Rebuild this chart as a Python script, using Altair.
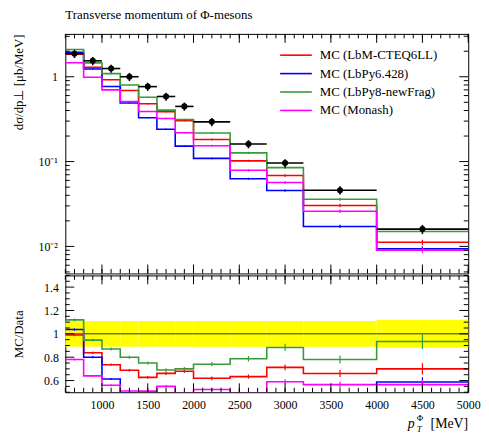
import altair as alt
import pandas as pd

# Bin edges of the pT histogram (MeV)
edges = [600, 800, 1000, 1200, 1400, 1600, 1800, 2000, 2400, 2800, 3200, 4000, 5000]

# Measured cross section per bin (ub/MeV) and its relative uncertainty
data_xsec = [1.87, 1.54, 1.25, 1.0, 0.765, 0.585, 0.447, 0.294, 0.161, 0.096, 0.046, 0.016]
data_relerr = [0.11, 0.11, 0.11, 0.11, 0.11, 0.11, 0.11, 0.11, 0.11, 0.11, 0.11, 0.12]

# Generator predictions
mc_names = ["MC (LbM-CTEQ6LL)", "MC (LbPy6.428)", "MC (LbPy8-newFrag)", "MC (Monash)"]
mc_colors = ["#ff0000", "#0000ff", "#3a9a3a", "#ff00ff"]
mc_lbm = [1.85, 1.29, 0.92, 0.688, 0.48, 0.387, 0.3035, 0.182, 0.102, 0.0684, 0.0304, 0.0112]
mc_lbpy6 = [1.94, 1.232, 0.7675, 0.49, 0.329, 0.24, 0.152, 0.109, 0.0628, 0.0457, 0.0172, 0.0094]
mc_lbpy8 = [2.094, 1.457, 1.0875, 0.80, 0.574, 0.404, 0.313, 0.2176, 0.1267, 0.0848, 0.0359, 0.01496]
mc_monash = [1.459, 0.986, 0.70, 0.51, 0.39, 0.322, 0.219, 0.154, 0.079, 0.0566, 0.026, 0.00904]
mc_relerr = [0.01, 0.012, 0.014, 0.016, 0.018, 0.02, 0.022, 0.025, 0.03, 0.035, 0.045, 0.07]

# Axis tick positions
x_major = [1000, 1500, 2000, 2500, 3000, 3500, 4000, 4500, 5000]
x_minor = list(range(600, 5001, 100))
y_major = [0.01, 0.1, 1.0]
y_minor = [0.005, 0.006, 0.007, 0.008, 0.009,
           0.02, 0.03, 0.04, 0.05, 0.06, 0.07, 0.08, 0.09,
           0.2, 0.3, 0.4, 0.5, 0.6, 0.7, 0.8, 0.9, 2.0, 3.0]
r_major = [0.6, 0.8, 1.0, 1.2, 1.4]
r_minor = [0.5, 0.55, 0.65, 0.7, 0.75, 0.85, 0.9, 0.95, 1.05, 1.1, 1.15, 1.25, 1.3, 1.35, 1.45, 1.5]

FONT = "Liberation Serif"
W, H1, H2 = 407, 242, 118
MAJ, MIN = 9, 4.5

series = {
    mc_names[0]: mc_lbm,
    mc_names[1]: mc_lbpy6,
    mc_names[2]: mc_lbpy8,
    mc_names[3]: mc_monash,
}

centers = [(edges[i] + edges[i + 1]) / 2 for i in range(len(data_xsec))]

step_rows, err_rows, rstep_rows, rerr_rows = [], [], [], []
for name, vals in series.items():
    for i, v in enumerate(vals):
        r = v / data_xsec[i]
        step_rows.append({"series": name, "x": edges[i], "y": v})
        rstep_rows.append({"series": name, "x": edges[i], "y": r})
        err_rows.append({"series": name, "xc": centers[i],
                         "lo": v * (1 - mc_relerr[i]), "hi": v * (1 + mc_relerr[i])})
        rerr_rows.append({"series": name, "xc": centers[i],
                          "lo": r * (1 - mc_relerr[i]), "hi": r * (1 + mc_relerr[i])})
    step_rows.append({"series": name, "x": edges[-1], "y": vals[-1]})
    rstep_rows.append({"series": name, "x": edges[-1], "y": vals[-1] / data_xsec[-1]})

steps = pd.DataFrame(step_rows)
errs = pd.DataFrame(err_rows)
rsteps = pd.DataFrame(rstep_rows)
rerrs = pd.DataFrame(rerr_rows)

meas = pd.DataFrame({
    "xlo": edges[:-1], "xhi": edges[1:], "xc": centers, "y": data_xsec,
    "lo": [v * (1 - e) for v, e in zip(data_xsec, data_relerr)],
    "hi": [v * (1 + e) for v, e in zip(data_xsec, data_relerr)],
    "rlo": [1 - e for e in data_relerr], "rhi": [1 + e for e in data_relerr],
})

xscale = alt.Scale(domain=[600, 5000], nice=False, zero=False)
yscale = alt.Scale(type="log", domain=[0.0048, 3.2], nice=False)
rscale = alt.Scale(domain=[0.5, 1.5], nice=False, zero=False)

x_top_axis = alt.Axis(labels=False, ticks=False, domain=False, grid=False, title=None)
x_bot_axis = alt.Axis(values=x_major, format="d", ticks=False, tickSize=0, domain=False,
                      grid=False, title=None, labelPadding=7, labelFlush=False)
y_top_axis = alt.Axis(values=y_major, ticks=False, tickSize=0, domain=False, grid=False,
                      title="dσ/dp⊥ [μb/MeV]", titleAnchor="end", titleX=-40,
                      labelPadding=8,
                      labelExpr="datum.value >= 0.99 ? '1' : (datum.value >= 0.099 ? '10⁻¹' : '10⁻²')")
y_bot_axis = alt.Axis(values=r_major, ticks=False, tickSize=0, domain=False, grid=False,
                      title="MC/Data", titleX=-40, labelPadding=7,
                      labelExpr="datum.value == 1 ? '1' : format(datum.value, '.1f')")

color = alt.Color("series:N", scale=alt.Scale(domain=mc_names, range=mc_colors), legend=None)


def X(field, axis):
    return alt.X(field, type="quantitative", scale=xscale, axis=axis)


def Y(field, scale, axis):
    return alt.Y(field, type="quantitative", scale=scale, axis=axis)


def tick_layers(xaxis, yscale_, yaxis, ymaj, ymin, height):
    layers = []
    for vals, L in ((x_major, MAJ), (x_minor, MIN)):
        df = pd.DataFrame({"v": vals})
        for y0, y1 in ((height, height - L), (0, L)):
            layers.append(alt.Chart(df).mark_rule(color="black", strokeWidth=1).encode(
                x=X("v", xaxis), y=alt.value(y0), y2=alt.value(y1)))
    for vals, L in ((ymaj, MAJ), (ymin, MIN)):
        df = pd.DataFrame({"v": vals})
        for x0, x1 in ((0, L), (W, W - L)):
            layers.append(alt.Chart(df).mark_rule(color="black", strokeWidth=1).encode(
                y=Y("v", yscale_, yaxis), x=alt.value(x0), x2=alt.value(x1)))
    return layers


# ---- upper panel: cross section ----
mc_lines = alt.Chart(steps).mark_line(interpolate="step-after", strokeWidth=1.6, clip=True).encode(
    x=X("x", x_top_axis), y=Y("y", yscale, y_top_axis), color=color, detail="series:N")
mc_err = alt.Chart(errs).mark_rule(strokeWidth=1.2, clip=True).encode(
    x=X("xc", x_top_axis), y=Y("lo", yscale, y_top_axis), y2="hi", color=color)
data_h = alt.Chart(meas).mark_rule(color="black", strokeWidth=1.6).encode(
    x=X("xlo", x_top_axis), x2="xhi", y=Y("y", yscale, y_top_axis))
data_v = alt.Chart(meas).mark_rule(color="black", strokeWidth=1.6).encode(
    x=X("xc", x_top_axis), y=Y("lo", yscale, y_top_axis), y2="hi")
data_pt = alt.Chart(meas).mark_point(filled=True, color="black", size=38, opacity=1).encode(
    x=X("xc", x_top_axis), y=Y("y", yscale, y_top_axis))

legend_layers = []
for i, (name, col) in enumerate(zip(mc_names, mc_colors)):
    row = pd.DataFrame({"label": [name]})
    yy = 21.5 + 18.6 * i
    legend_layers.append(alt.Chart(row).mark_rule(color=col, strokeWidth=1.6).encode(
        x=alt.value(217), x2=alt.value(249), y=alt.value(yy)))
    legend_layers.append(alt.Chart(row).mark_text(
        align="left", baseline="middle", font=FONT, fontSize=13, color="black").encode(
        x=alt.value(257), y=alt.value(yy), text="label:N"))

top = alt.layer(
    mc_lines, mc_err, data_h, data_v, data_pt,
    *tick_layers(x_top_axis, yscale, y_top_axis, y_major, y_minor, H1),
    *legend_layers,
).properties(
    width=W, height=H1,
    title=alt.Title("Transverse momentum of Φ-mesons", anchor="start", frame="group",
                    font=FONT, fontSize=13, fontWeight="normal", offset=12, color="black"),
)

# ---- lower panel: ratio to data ----
band = alt.Chart(meas).mark_rect(color="#ffff00", opacity=1).encode(
    x=X("xlo", x_bot_axis), x2="xhi", y=Y("rlo", rscale, y_bot_axis), y2="rhi")
unity = alt.Chart(meas).mark_rule(color="#333333", strokeWidth=1).encode(
    x=X("xlo", x_bot_axis), x2="xhi", y=alt.Y(datum=1, scale=rscale, axis=y_bot_axis))
r_lines = alt.Chart(rsteps).mark_line(interpolate="step-after", strokeWidth=1.6, clip=True).encode(
    x=X("x", x_bot_axis), y=Y("y", rscale, y_bot_axis), color=color, detail="series:N")
r_err = alt.Chart(rerrs).mark_rule(strokeWidth=1.2, clip=True).encode(
    x=X("xc", x_bot_axis), y=Y("lo", rscale, y_bot_axis), y2="hi", color=color)

# x-axis title p_T^Phi [MeV], built from pieces for the sub/superscript
lab = pd.DataFrame({"t": ["p", "T", "Φ", "[MeV]"]})
xt_p = alt.Chart(lab.iloc[[0]]).mark_text(font=FONT, fontSize=14, fontStyle="italic", align="left",
                                           baseline="alphabetic", color="black").encode(
    x=alt.value(W - 61), y=alt.value(H2 + 36), text="t:N")
xt_sub = alt.Chart(lab.iloc[[1]]).mark_text(font=FONT, fontSize=9, fontStyle="italic", align="left",
                                             baseline="alphabetic", color="black").encode(
    x=alt.value(W - 52), y=alt.value(H2 + 40), text="t:N")
xt_sup = alt.Chart(lab.iloc[[2]]).mark_text(font=FONT, fontSize=9, align="left",
                                             baseline="alphabetic", color="black").encode(
    x=alt.value(W - 52), y=alt.value(H2 + 29), text="t:N")
xt_unit = alt.Chart(lab.iloc[[3]]).mark_text(font=FONT, fontSize=14, align="right",
                                              baseline="alphabetic", color="black").encode(
    x=alt.value(W), y=alt.value(H2 + 36), text="t:N")

bottom = alt.layer(
    band, unity, r_lines, r_err,
    *tick_layers(x_bot_axis, rscale, y_bot_axis, r_major, r_minor, H2),
    xt_p, xt_sub, xt_sup, xt_unit,
).properties(width=W, height=H2)

chart = alt.vconcat(top, bottom, spacing=0).properties(
    padding={"left": 12, "top": 6, "right": 8, "bottom": 2},
    background="white",
).configure(
    font=FONT,
).configure_view(
    stroke="black", strokeWidth=1,
).configure_axis(
    labelFont=FONT, labelFontSize=12, labelColor="black",
    titleFont=FONT, titleFontSize=13, titleFontWeight="normal", titleColor="black",
)

chart.save("out.html", embed_options={"renderer": "svg", "actions": False})
